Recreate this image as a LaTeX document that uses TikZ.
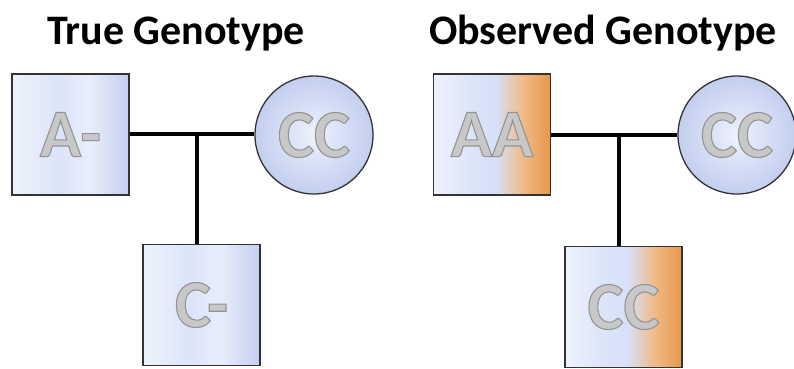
\documentclass[tikz,border=0pt]{standalone}
\usepackage{fontspec}
\setmainfont{Carlito}
\definecolor{lavA}{HTML}{EEF2FC}
\definecolor{lavB}{HTML}{DCE4F8}
\definecolor{lavC}{HTML}{C3CEF0}
\definecolor{orng}{HTML}{E8964A}
\definecolor{silver}{HTML}{C8C8C8}
\newcommand{\silvertext}[1]{\special{pdf:literal 2 Tr 1.1 w 0.58 0.58 0.58 RG}#1\special{pdf:literal 0 Tr}}
\pgfdeclarehorizontalshading{bluesq}{100bp}{color(0bp)=(lavA); color(25bp)=(lavA); color(45bp)=(lavB); color(58bp)=(lavA!70!lavB); color(75bp)=(lavC); color(100bp)=(lavC)}
\pgfdeclarehorizontalshading{orangesq}{100bp}{color(0bp)=(lavA); color(25bp)=(lavA); color(42bp)=(lavB); color(52bp)=(lavB!80!lavC); color(63bp)=(orng!65!white); color(75bp)=(orng); color(100bp)=(orng)}
\tikzset{
  person/.style={draw=black!80, line width=1.3pt, inner sep=0pt, text=silver,
    font=\bfseries\fontsize{68}{68}\selectfont},
  male/.style={person, rectangle, minimum width=117pt, minimum height=121pt, shading=bluesq},
  malex/.style={person, rectangle, minimum width=117pt, minimum height=121pt, shading=orangesq},
  female/.style={person, circle, minimum size=118pt, inner color=lavA, outer color=lavC},
  link/.style={line width=3.4pt, black},
  title/.style={anchor=base, font=\bfseries\fontsize{42}{42}\selectfont}
}
\begin{document}
\begin{tikzpicture}[x=1pt,y=-1pt]
\useasboundingbox (0,0) rectangle (794,368);
% titles
\node[title] (t1) at (176,44) {True Genotype};
\node[title] (t2) at (603,44) {Observed Genotype};
% left pedigree
\node[male] (fa1) at (70.5,134.5) {\silvertext{A-}};
\node[female] (mo1) at (314,135) {\silvertext{CC}};
\node[male] (ch1) at (201.5,305) {\silvertext{C-}};
\coordinate (j1) at (197,134);
\draw[link] (fa1.east |- j1) -- (mo1.west |- j1);
\draw[link] (j1) -- (j1 |- ch1.north);
% right pedigree
\node[malex] (fa2) at (492,134.5) {\silvertext{AA}};
\node[female] (mo2) at (737,135) {\silvertext{CC}};
\node[malex] (ch2) at (623.5,307) {\silvertext{CC}};
\coordinate (j2) at (619,135);
\draw[link] (fa2.east |- j2) -- (mo2.west |- j2);
\draw[link] (j2) -- (j2 |- ch2.north);
\end{tikzpicture}
\end{document}
